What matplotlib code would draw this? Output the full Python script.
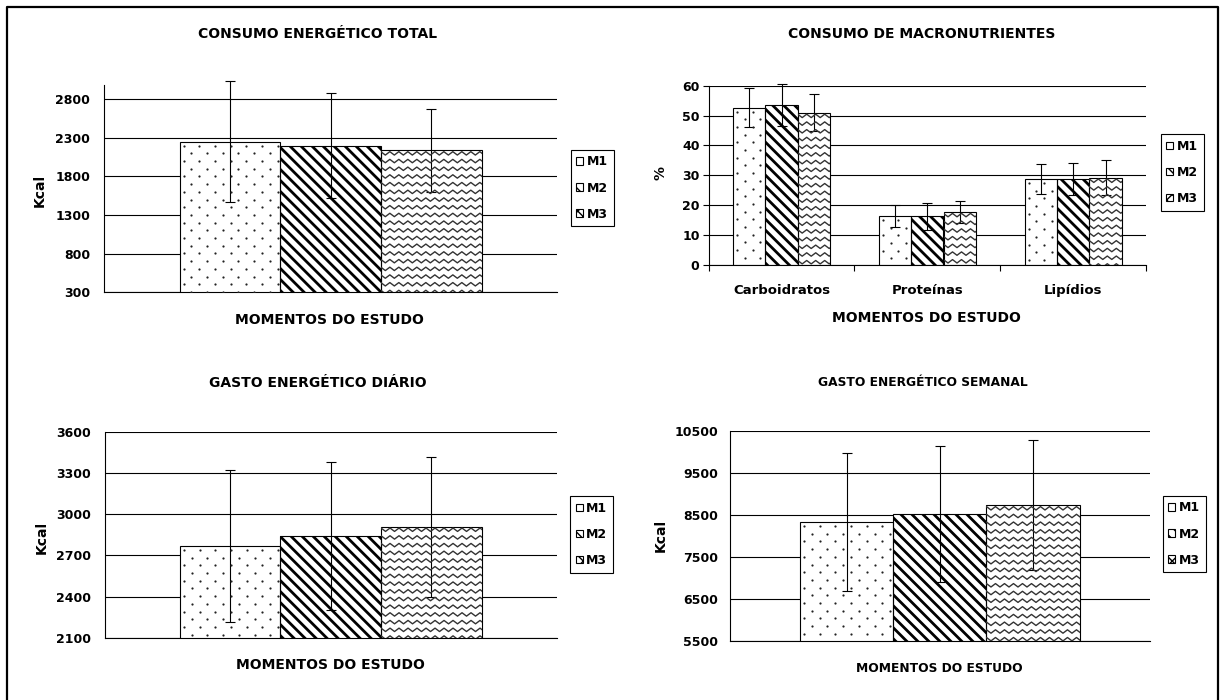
import numpy as np
import matplotlib
matplotlib.use("Agg")
import matplotlib.pyplot as plt
from matplotlib.collections import LineCollection
from matplotlib.lines import Line2D
from matplotlib.patches import Patch
from matplotlib.transforms import Bbox, IdentityTransform

# ---- data ----
moments = ["M1", "M2", "M3"]

energy_intake = [2247, 2195, 2135]
energy_intake_sd = [785, 680, 533]

macro_names = ["Carboidratos", "Proteínas", "Lipídios"]
macro_m1 = [52.7, 16.4, 28.8]
macro_m2 = [53.6, 16.3, 28.8]
macro_m3 = [50.9, 17.7, 29.2]
macro_sd_m1 = [6.6, 3.7, 5.1]
macro_sd_m2 = [7.0, 4.6, 5.5]
macro_sd_m3 = [6.2, 3.8, 5.8]

daily_expenditure = [2768, 2840, 2908]
daily_expenditure_sd = [555, 539, 511]

weekly_expenditure = [8326, 8510, 8724]
weekly_expenditure_sd = [1650, 1620, 1550]

W, H = 1221, 700
plt.rcParams["font.family"] = "DejaVu Sans"
plt.rcParams["font.weight"] = "bold"

fig = plt.figure(figsize=(W / 100, H / 100), dpi=100)


def rect(left, top, right, bottom):
    # pixel box (y from top) -> figure fraction rect
    return [left / W, 1 - bottom / H, (right - left) / W, (bottom - top) / H]


def ftext(x, y, s, size, **kw):
    fig.text(x / W, 1 - y / H, s, fontsize=size, fontweight="bold",
             ha="center", va="center", **kw)


def pattern(ax, bar, kind):
    # fill pattern drawn in pixel space, clipped to the visible part of the bar
    x0, y0 = bar.get_x(), bar.get_y()
    p0 = ax.transData.transform((x0, y0))
    p1 = ax.transData.transform((x0 + bar.get_width(), y0 + bar.get_height()))
    ab = ax.bbox
    px0, px1 = sorted([p0[0], p1[0]])
    py0, py1 = sorted([p0[1], p1[1]])
    py0 = max(py0, ab.y0)
    py1 = min(py1, ab.y1)
    box = Bbox([[px0, py0], [px1, py1]])
    if kind == 0:
        xs, ys = [], []
        for i, yy in enumerate(np.arange(py1 - 4, py0, -7.7)):
            off = 4 if i % 2 == 0 else 4 + 7.85
            for xx in np.arange(px0 + off, px1, 15.7):
                xs.append(xx)
                ys.append(yy)
        art = Line2D(xs, ys, ls="none", marker="o", ms=1.6, mec="none",
                     mfc="#222222", transform=IdentityTransform(), zorder=2.5)
    elif kind == 1:
        h = py1 - py0
        segs = [[(c - h - 20, py1 + 20), (c + 20, py0 - 20)]
                for c in np.arange(px0 - 20, px1 + h + 40, 11.0)]
        art = LineCollection(segs, colors="black", linewidths=2.0,
                             transform=IdentityTransform(), zorder=2.5)
    else:
        segs = []
        xs = np.arange(px0 - 9, px1 + 9, 4.5)
        for yy in np.arange(py1 - 3, py0 - 4, -7.7):
            zig = yy + np.where(np.arange(len(xs)) % 2 == 0, 1.7, -1.7)
            segs.append(list(zip(xs, zig)))
        art = LineCollection(segs, colors="#333333", linewidths=1.0,
                             transform=IdentityTransform(), zorder=2.5)
    art.set_clip_box(box)
    art.set_clip_on(True)
    fig.add_artist(art)


def style_axes(ax, ticks, tick_len, pad):
    for s in ["top", "right"]:
        ax.spines[s].set_visible(False)
    ax.spines["left"].set_linewidth(0.8)
    ax.spines["bottom"].set_linewidth(0.8)
    ax.set_yticks(ticks)
    ax.yaxis.grid(True, color="black", lw=0.8)
    ax.set_axisbelow(True)
    ax.tick_params(axis="y", length=tick_len, width=0.8, pad=pad, labelsize=9)
    for t in ax.get_yticklabels():
        t.set_fontweight("bold")


def legend(ax, x0, y0, x1, y1):
    kinds = [dict(hatch=""), dict(hatch="\\\\\\"), dict(hatch="xxx")]
    handles = [Patch(facecolor="white", edgecolor="black", lw=0.8, **k) for k in kinds]
    lg = ax.legend(handles, moments, loc="center",
                   bbox_to_anchor=((x0 + x1) / 2 / W, 1 - (y0 + y1) / 2 / H),
                   bbox_transform=fig.transFigure, frameon=True, fancybox=False,
                   edgecolor="black", framealpha=1, handlelength=0.55,
                   handleheight=0.55, handletextpad=0.3, labelspacing=1.05,
                   borderpad=0.45, prop=dict(weight="bold", size=9))
    lg.get_frame().set_linewidth(0.8)


def single_panel(box, values, sd, ylim, ticks, pad, legend_box):
    ax = fig.add_axes(rect(*box))
    x = np.arange(len(values)) - 1.0
    ax.set_xlim(-2.25, 2.25)
    ax.set_ylim(*ylim)
    style_axes(ax, ticks, 0, pad)
    ax.set_xticks([])
    bars = ax.bar(x, values, width=1.0, color="white", edgecolor="none", zorder=2)
    ax.bar(x, values, width=1.0, fill=False, edgecolor="black", lw=0.8, zorder=3)
    eb = ax.errorbar(x, values, yerr=sd, fmt="none", ecolor="black",
                     elinewidth=0.8, capsize=3.8, capthick=0.8, zorder=4)
    for a in eb.lines[1] + eb.lines[2]:
        a.set_clip_on(False)
    for k, b in enumerate(bars):
        pattern(ax, b, k)
    legend(ax, *legend_box)
    return ax


# panel 1
single_panel((104, 85, 557, 292.3), energy_intake, energy_intake_sd,
             (300, 2980), np.arange(300, 2801, 500), 10, (570, 148, 614.6, 228))
ftext(318, 34, "CONSUMO ENERGÉTICO TOTAL", 10)
ftext(39.5, 190, "Kcal", 10, rotation=90)
ftext(329, 320, "MOMENTOS DO ESTUDO", 10)

# panel 3
single_panel((104.5, 431.7, 557, 637.7), daily_expenditure, daily_expenditure_sd,
             (2100, 3600), np.arange(2100, 3601, 300), 10, (570, 494, 613, 575))
ftext(317.6, 382.7, "GASTO ENERGÉTICO DIÁRIO", 10)
ftext(41.5, 537, "Kcal", 10, rotation=90)
ftext(330, 665, "MOMENTOS DO ESTUDO", 10)

# panel 4
single_panel((730, 430.7, 1149.7, 640.7), weekly_expenditure, weekly_expenditure_sd,
             (5500, 10500), np.arange(5500, 10501, 1000), 8.5, (1162.6, 495, 1205.5, 573))
ftext(922.7, 383, "GASTO ENERGÉTICO SEMANAL", 8.8)
ftext(660.7, 535, "Kcal", 10, rotation=90)
ftext(939, 668.3, "MOMENTOS DO ESTUDO", 8.8)

# panel 2
ax2 = fig.add_axes(rect(708.6, 85.7, 1146, 265))
cat = np.arange(len(macro_names))
w = 1 / 4.5
ax2.set_xlim(-0.5, 2.5)
ax2.set_ylim(0, 60)
style_axes(ax2, np.arange(0, 61, 10), 4, 2.5)
ax2.set_xticks(cat)
ax2.set_xticklabels(macro_names, fontsize=9.5, fontweight="bold")
ax2.set_xticks(np.arange(-0.5, 2.6, 1), minor=True)
ax2.tick_params(axis="x", which="major", length=0, pad=14)
ax2.tick_params(axis="x", which="minor", length=4, width=0.8)
series = [(macro_m1, macro_sd_m1), (macro_m2, macro_sd_m2), (macro_m3, macro_sd_m3)]
for k, (vals, sd) in enumerate(series):
    xs = cat + (k - 1) * w
    bars = ax2.bar(xs, vals, width=w, color="white", edgecolor="none", zorder=2)
    ax2.bar(xs, vals, width=w, fill=False, edgecolor="black", lw=0.8, zorder=3)
    ax2.errorbar(xs, vals, yerr=sd, fmt="none", ecolor="black", elinewidth=0.8,
                 capsize=3.8, capthick=0.8, zorder=4, clip_on=False)
    for b in bars:
        pattern(ax2, b, k)
legend(ax2, 1160, 132, 1204, 213)
ftext(922, 34, "CONSUMO DE MACRONUTRIENTES", 10)
ftext(660.7, 173, "%", 10, rotation=90)
ftext(926.4, 318, "MOMENTOS DO ESTUDO", 10)

# outer frame (left, top, right)
fig.add_artist(Line2D([6.5 / W, 6.5 / W, 1217.5 / W, 1217.5 / W],
                      [0, 1 - 6.5 / H, 1 - 6.5 / H, 0],
                      transform=fig.transFigure, color="black", lw=1.6))

fig.savefig("out.png", dpi=100)
